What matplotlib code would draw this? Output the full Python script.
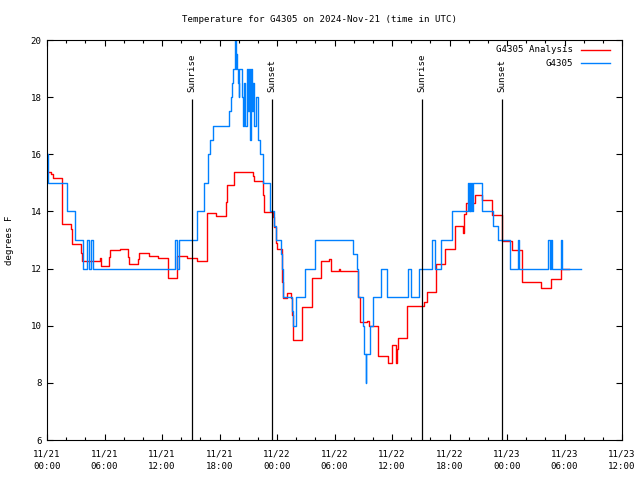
import matplotlib
matplotlib.use("Agg")
import matplotlib.pyplot as plt

# ---- data (x in hours since 11/21 00:00 UTC, y in degrees F) ----
obs_hours = [0.00, 0.14, 2.06, 2.90, 3.79, 4.14, 4.38, 4.59, 4.83, 13.36, 13.53, 13.81,
             15.62, 16.38, 16.83, 17.01, 17.29, 19.02, 19.17, 19.27, 19.36,
             19.62, 19.70, 19.76, 19.83, 19.96, 20.01, 20.07, 20.30, 20.41, 20.49,
             20.56, 20.66, 20.82, 20.97, 21.06, 21.18, 21.27, 21.38, 21.49, 21.60,
             21.78, 22.05, 22.23, 22.57, 23.27, 23.69, 23.90, 24.39, 24.49, 24.66,
             25.53, 25.70, 25.98, 26.92, 27.97, 31.96, 32.38, 32.48, 32.94, 33.11,
             33.26, 33.32, 33.70, 34.05, 34.85, 35.51, 37.70, 37.95, 38.85, 40.14,
             40.49, 41.11, 42.23, 43.90, 44.00, 44.09, 44.18, 44.28, 44.35, 44.45,
             45.44, 46.57, 47.03, 48.31, 49.18, 49.28, 52.31, 52.44, 52.54, 52.66,
             53.60, 53.70, 55.72]
obs_temps = [16, 15, 14, 13, 12, 13, 12, 13, 12, 13, 12, 13,
             14, 15, 16, 16.5, 17, 17.5, 18, 18.5, 19,
             20, 19, 19.5, 19, 18.5, 18, 19, 18, 17.5, 17,
             18.5, 17, 19, 17.5, 19, 16.5, 19, 17.5, 18.5, 17,
             18, 16.5, 16, 15, 14, 13.5, 13, 12.5, 12, 11,
             10.5, 10, 11, 12, 13, 12.5, 12, 11, 10, 9,
             8, 9, 10, 11, 12, 11, 12, 11, 12, 13,
             12, 13, 14, 15, 14, 15, 14, 15, 14, 15,
             14, 13.5, 13, 12, 13, 12, 13, 12, 13, 12,
             13, 12, 12]

ana_hours = [0.00, 0.42, 0.66, 1.53, 1.60, 2.47, 2.64, 3.55, 3.62, 5.53, 5.63, 6.50,
             6.57, 7.62, 8.48, 8.56, 9.53, 9.63, 10.64, 11.61, 12.59, 13.53, 14.58,
             15.62, 16.66, 16.73, 17.60, 18.65, 18.75, 19.54, 21.53, 21.63, 22.57,
             22.67, 23.55, 23.69, 23.90, 24.03, 24.49, 24.66, 25.07, 25.46, 25.53,
             25.64, 26.58, 27.62, 28.56, 29.39, 29.60, 30.47, 30.57, 32.48, 32.66,
             33.42, 33.57, 34.57, 35.61, 36.03, 36.39, 36.49, 36.60, 37.60, 39.37,
             39.62, 40.59, 41.53, 42.57, 43.38, 43.54, 43.72, 44.66, 45.42, 46.47,
             47.51, 48.49, 49.60, 51.55, 52.56, 53.60, 54.50]
ana_temps = [15.39, 15.30, 15.16, 14.36, 13.55, 13.37, 12.86, 12.53, 12.26, 12.36, 12.09, 12.42,
             12.65, 12.68, 12.42, 12.15, 12.33, 12.53, 12.45, 12.38, 11.66, 12.44, 12.36,
             12.28, 13.12, 13.93, 13.84, 14.34, 14.93, 15.39, 15.25, 15.07, 14.58,
             13.99, 13.82, 13.47, 12.88, 12.67, 11.54, 10.96, 11.16, 10.96, 10.37,
             9.50, 10.67, 11.66, 12.26, 12.32, 11.92, 11.97, 11.92, 11.02, 10.12,
             10.15, 9.99, 8.94, 8.68, 9.33, 8.68, 9.20, 9.57, 10.69, 10.84,
             11.19, 12.15, 12.67, 13.49, 13.23, 13.90, 14.28, 14.58, 14.40, 13.87,
             12.96, 12.65, 11.52, 11.31, 11.63, 12.00, 12.00]

event_hours = [15.10, 23.50, 39.16, 47.51]
event_labels = ["Sunrise", "Sunset", "Sunrise", "Sunset"]

xtick_hours = [0, 6, 12, 18, 24, 30, 36, 42, 48, 54, 60]
xtick_labels = ["11/21\n00:00", "11/21\n06:00", "11/21\n12:00", "11/21\n18:00",
                "11/22\n00:00", "11/22\n06:00", "11/22\n12:00", "11/22\n18:00",
                "11/23\n00:00", "11/23\n06:00", "11/23\n12:00"]
ytick_vals = [6, 8, 10, 12, 14, 16, 18, 20]

series_names = ["G4305 Analysis", "G4305"]
series_colors = ["#ff0000", "#0080ff"]

# ---- drawing ----
FONT = "DejaVu Sans Mono"
FS = 6.6
plt.rcParams['font.family'] = [FONT]

fig = plt.figure(figsize=(6.4, 4.8), dpi=100)
ax = fig.add_axes([47/640, 40/480, 575/640, 400/480])

ax.step(ana_hours, ana_temps, where='post', color=series_colors[0], lw=1.0)
ax.step(obs_hours, obs_temps, where='post', color=series_colors[1], lw=1.0)

for h, lab in zip(event_hours, event_labels):
    ax.vlines(h, 6, 17.95, color='black', lw=0.9)
    ax.text(h, 18.18, lab, rotation=90, ha='center', va='bottom', fontsize=FS)

ax.set_xlim(0, 60)
ax.set_ylim(6, 20)
ax.set_xticks(xtick_hours)
ax.set_xticklabels(xtick_labels, fontsize=FS, linespacing=1.55)
ax.set_xticks(range(0, 61, 2), minor=True)
ax.set_yticks(ytick_vals)
ax.set_yticklabels([str(v) for v in ytick_vals], fontsize=FS)
ax.tick_params(which='both', direction='in', top=True, right=True, width=0.8)
ax.tick_params(which='major', length=4.5)
ax.tick_params(which='minor', length=2.2)
ax.tick_params(axis='x', which='major', pad=6.5)
ax.tick_params(axis='y', which='major', pad=4)
for s in ax.spines.values():
    s.set_linewidth(0.8)

ax.set_ylabel("degrees F", fontsize=FS)
ax.yaxis.set_label_coords(-33/575, 0.5)

fig.text(0.5, 1 - 20/480, "Temperature for G4305 on 2024-Nov-21 (time in UTC)",
         ha='center', va='center', fontsize=FS)

# legend (top-right, text right-aligned, sample line to the right)
leg_y = [0.975, 0.9418]
for name, col, yy in zip(series_names, series_colors, leg_y):
    ax.text(0.9148, yy, name, transform=ax.transAxes, ha='right', va='center', fontsize=FS)
    ax.plot([0.9287, 0.9791], [yy, yy], transform=ax.transAxes, color=col, lw=1.0)

fig.savefig("out.png", dpi=100)
